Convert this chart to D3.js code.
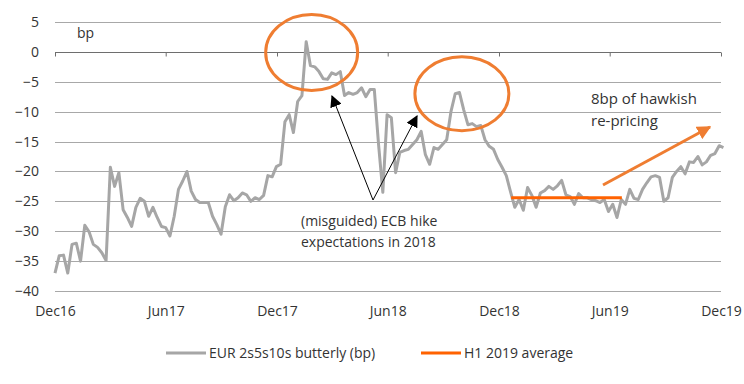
<!DOCTYPE html>
<html>
<head>
<meta charset="utf-8">
<script src="https://cdn.jsdelivr.net/npm/d3@7"></script>
<style>
   body { margin: 0; background: #fff; }
   #chart { width: 744px; height: 384px; }
   text { font-family: "Open Sans", sans-serif; fill: #333; }
</style>
</head>
<body>
<div id="chart"></div>
<script>
// Weekly observations from Dec16 onwards (bp)
const seriesStart = "2016-12-01";
const butterfly = [
   -37, -34.1, -34, -37, -32.2, -32, -35, -29, -30.1, -32.2, -32.7, -33.6, -34.9,
   -19.3, -22.5, -20.2, -26.4, -27.7, -29.2, -26, -24.5, -25, -27.5, -26, -27.7,
   -29.2, -29.4, -30.8, -27.5, -23, -21.6, -20, -23.3, -24.7, -25.2, -25.2, -25.2,
   -27.5, -28.9, -30.5, -25.9, -23.9, -24.9, -24.4, -23.6, -23.9, -25, -24.4, -24.7,
   -24, -20.7, -20.9, -19.2, -18.8, -11.7, -10.5, -13.5, -8.3, -7.3, 1.7, -2.3,
   -2.5, -3.3, -4.5, -4.6, -3.5, -3.8, -3.3, -7.3, -6.8, -7.1, -6.8, -6, -7.5,
   -6.3, -6.3, -15.5, -23.5, -10.5, -11, -20.2, -16.8, -16.5, -16.3, -15.5, -14.7,
   -13.3, -17.2, -18.8, -16, -16.3, -15.5, -14.7, -10, -7, -6.8, -9.7, -12.2, -12,
   -12.5, -12.3, -14.7, -15.8, -16.3, -18, -19.3, -20.7, -23.4, -26, -24.7, -26.5,
   -22.7, -24, -26, -23.6, -23.2, -22.5, -23, -22.4, -21.5, -23.9, -24.2, -25.5,
   -23.7, -24.4, -24.4, -24.7, -24.9, -25.2, -24.7, -26.7, -25.5, -27.7, -24.7,
   -25.5, -23, -24.5, -24.7, -23, -21.9, -20.9, -20.7, -21, -25, -24.4, -21, -20,
   -19.2, -20.4, -18.4, -18.5, -17.5, -18.9, -18.4, -17.3, -17, -15.7, -16
];
const averageDates = ["2018-12-21", "2019-06-21"];
const averageValue = -24.4;
const tickLabels = ["Dec16", "Jun17", "Dec17", "Jun18", "Dec18", "Jun19", "Dec19"];
const yTicks = [5, 0, -5, -10, -15, -20, -25, -30, -35, -40];
const legendLabels = ["EUR 2s5s10s butterly (bp)", "H1 2019 average"];

const parseDay = d3.timeParse("%Y-%m-%d");
const parseTick = d3.timeParse("%b%y");

const margin = { top: 22, left: 55, width: 666, height: 269 };
const colors = { series: "#a6a6a6", average: "#ff6200", circle: "#ef7d31", grid: "#a8a8a8", zero: "#6e6e6e" };

const svg = d3.select("#chart").append("svg")
   .attr("width", 744)
   .attr("height", 384);

// Scales
const x = d3.scaleTime()
   .domain([parseTick("Dec16"), parseTick("Dec19")])
   .range([margin.left, margin.left + margin.width]);
const y = d3.scaleLinear()
   .domain([-40, 5])
   .range([margin.top + margin.height, margin.top]);

const start = parseDay(seriesStart);
const data = butterfly.map((v, i) => ({ date: d3.timeDay.offset(start, 7 * i), value: v }));

// Gridlines
svg.append("g")
   .selectAll("line")
   .data(yTicks.filter(d => d !== 0))
   .join("line")
   .attr("x1", x.range()[0])
   .attr("x2", x.range()[1])
   .attr("y1", d => Math.round(y(d)) + 0.5)
   .attr("y2", d => Math.round(y(d)) + 0.5)
   .attr("stroke", colors.grid)
   .attr("stroke-width", 1);

// Y labels
const leftAxis = d3.axisLeft(y).tickValues(yTicks).tickSize(0).tickPadding(16);
svg.append("g")
   .attr("transform", "translate(" + margin.left + ",0)")
   .call(leftAxis)
   .call(g => g.select(".domain").remove())
   .call(g => g.selectAll("text").style("font-size", "14px").attr("fill", "#333"));

// Zero line with ticks
const zeroY = Math.round(y(0)) + 0.5;
const tickDates = tickLabels.map(parseTick);
const zeroAxis = d3.axisBottom(x).tickValues(tickDates).tickSize(4).tickFormat("");
svg.append("g")
   .attr("transform", "translate(0," + zeroY + ")")
   .call(zeroAxis)
   .call(g => g.select(".domain").attr("stroke", colors.zero).attr("d", "M" + x.range()[0] + ",0H" + x.range()[1]))
   .call(g => g.selectAll(".tick line").attr("stroke", colors.zero));

// X labels along bottom
const bottomAxis = d3.axisBottom(x).tickValues(tickDates).tickSize(0).tickPadding(15)
   .tickFormat((d, i) => tickLabels[i]);
svg.append("g")
   .attr("transform", "translate(0," + (margin.top + margin.height) + ")")
   .call(bottomAxis)
   .call(g => g.select(".domain").remove())
   .call(g => g.selectAll("text").style("font-size", "14px").attr("fill", "#333"));

// bp unit
svg.append("text")
   .attr("x", 77)
   .attr("y", 38)
   .style("font-size", "14px")
   .text("bp");

// Series line
const line = d3.line().x(d => x(d.date)).y(d => y(d.value));
svg.append("path")
   .datum(data)
   .attr("fill", "none")
   .attr("stroke", colors.series)
   .attr("stroke-width", 3)
   .attr("stroke-linejoin", "round")
   .attr("d", line);

// H1 2019 average
svg.append("line")
   .attr("x1", x(parseDay(averageDates[0])))
   .attr("x2", x(parseDay(averageDates[1])))
   .attr("y1", y(averageValue))
   .attr("y2", y(averageValue))
   .attr("stroke", colors.average)
   .attr("stroke-width", 3);

// Circles around peaks
const circles = [
   { date: "2018-01-27", value: -0.1, rx: 46, ry: 38 },
   { date: "2018-10-01", value: -7, rx: 47, ry: 37 }
];
svg.append("g")
   .selectAll("ellipse")
   .data(circles)
   .join("ellipse")
   .attr("cx", d => x(parseDay(d.date)))
   .attr("cy", d => y(d.value))
   .attr("rx", d => d.rx)
   .attr("ry", d => d.ry)
   .attr("fill", "none")
   .attr("stroke", colors.circle)
   .attr("stroke-width", 3);

// Arrow markers
const defs = svg.append("defs");
defs.append("marker")
   .attr("id", "head-black")
   .attr("viewBox", "0 0 10 10")
   .attr("refX", 9).attr("refY", 5)
   .attr("markerWidth", 12).attr("markerHeight", 12)
   .attr("markerUnits", "userSpaceOnUse")
   .attr("orient", "auto")
   .append("path").attr("d", "M0,0L10,5L0,10Z").attr("fill", "#000");
defs.append("marker")
   .attr("id", "head-orange")
   .attr("viewBox", "0 0 10 10")
   .attr("refX", 9).attr("refY", 5)
   .attr("markerWidth", 14).attr("markerHeight", 14)
   .attr("markerUnits", "userSpaceOnUse")
   .attr("orient", "auto")
   .append("path").attr("d", "M0,0L10,5L0,10Z").attr("fill", colors.circle);

// Black arrows to both peaks
const apex = [373, 200];
[[332, 96], [417, 116]].forEach(tip => {
   svg.append("line")
      .attr("x1", apex[0]).attr("y1", apex[1])
      .attr("x2", tip[0]).attr("y2", tip[1])
      .attr("stroke", "#000")
      .attr("stroke-width", 1)
      .attr("marker-end", "url(#head-black)");
});

// Orange re-pricing arrow
svg.append("line")
   .attr("x1", 603).attr("y1", 185)
   .attr("x2", 710).attr("y2", 127)
   .attr("stroke", colors.circle)
   .attr("stroke-width", 3)
   .attr("marker-end", "url(#head-orange)");

// Annotation texts
const notes = [
   { x: 301, y: 226, size: 14, text: "(misguided) ECB hike" },
   { x: 301, y: 247, size: 14, text: "expectations in 2018" },
   { x: 591, y: 104, size: 15, text: "8bp of hawkish" },
   { x: 591, y: 126, size: 15, text: "re-pricing" }
];
svg.append("g")
   .selectAll("text")
   .data(notes)
   .join("text")
   .attr("x", d => d.x)
   .attr("y", d => d.y)
   .style("font-size", d => d.size + "px")
   .attr("fill", "#222")
   .text(d => d.text);

// Legend
const legend = svg.append("g").attr("transform", "translate(0,353)");
const legendItems = [
   { x: 166, color: colors.series, label: legendLabels[0] },
   { x: 421, color: colors.average, label: legendLabels[1] }
];
legendItems.forEach(item => {
   legend.append("line")
      .attr("x1", item.x).attr("x2", item.x + 40)
      .attr("y1", 0).attr("y2", 0)
      .attr("stroke", item.color)
      .attr("stroke-width", 3);
   legend.append("text")
      .attr("x", item.x + 43)
      .attr("y", 5)
      .style("font-size", "14px")
      .text(item.label);
});
</script>
</body>
</html>
